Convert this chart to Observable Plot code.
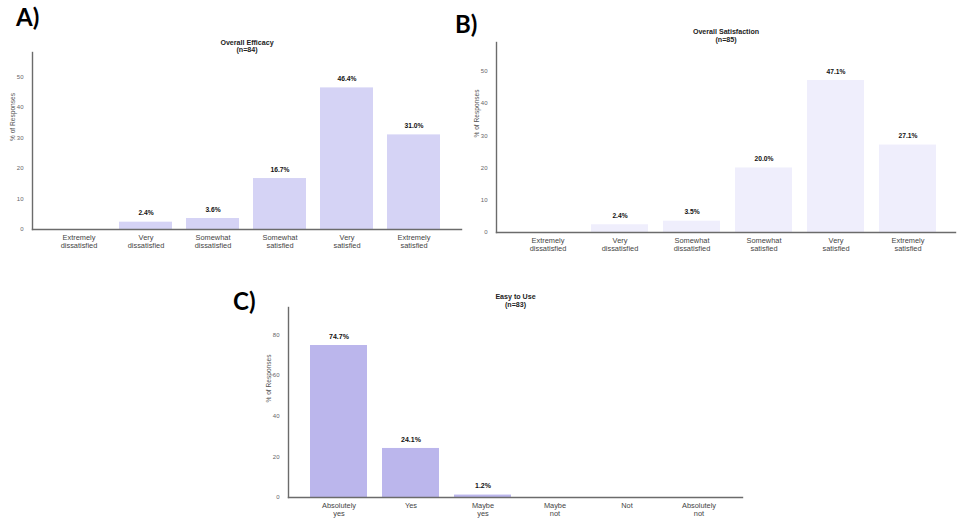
<!DOCTYPE html>
<html>
<head>
<meta charset="utf-8">
<script src="https://cdn.jsdelivr.net/npm/d3@7"></script>
<script src="https://cdn.jsdelivr.net/npm/@observablehq/plot@0.6"></script>
<style>
  html, body { margin: 0; padding: 0; background: #fff; }
  #root { position: relative; width: 963px; height: 524px; overflow: hidden; background: #fff; }
  .panel { position: absolute; }
  .panel svg { overflow: visible; background: transparent; }
  .letter { position: absolute; font-family: Lato, "Open Sans", sans-serif; font-weight: 700; font-size: 24px; line-height: 1; color: #000; }
</style>
</head>
<body>
<div id="root">
  <div class="letter" style="left:16px; top:5px;">A)</div>
  <div class="letter" style="left:455px; top:12px;">B)</div>
  <div class="letter" style="left:233px; top:289px;">C)</div>
  <div class="panel" id="pA" style="left:0px; top:0px;"></div>
  <div class="panel" id="pB" style="left:460px; top:0px;"></div>
  <div class="panel" id="pC" style="left:240px; top:270px;"></div>
</div>
<script>
// ---- Data ----
const satisfactionCategories = ["Extremely\ndissatisfied", "Very\ndissatisfied", "Somewhat\ndissatisfied", "Somewhat\nsatisfied", "Very\nsatisfied", "Extremely\nsatisfied"];
const efficacyValues = [0, 2.4, 3.6, 16.7, 46.4, 31.0];
const satisfactionValues = [0, 2.4, 3.5, 20.0, 47.1, 27.1];
const easeCategories = ["Absolutely\nyes", "Yes", "Maybe\nyes", "Maybe\nnot", "Not", "Absolutely\nnot"];
const easeValues = [74.7, 24.1, 1.2, 0, 0, 0];
const ticksAB = [0, 10, 20, 30, 40, 50];
const ticksC = [0, 20, 40, 60, 80];
const titles = ["Overall Efficacy\n(n=84)", "Overall Satisfaction\n(n=85)", "Easy to Use\n(n=83)"];
const yLabel = "% of Responses";

function panel(o) {
  const data = o.cats.map((c, i) => ({cat: c, v: o.vals[i]}));
  const yMax = d3.max(o.vals) * 1.25;
  const axisColor = "#6b6b6b";
  return Plot.plot({
    width: o.width, height: o.height,
    marginLeft: o.ml, marginRight: o.mr, marginTop: o.mt, marginBottom: o.mb,
    style: {fontFamily: "'Liberation Sans', Arial, sans-serif", background: "transparent", overflow: "visible"},
    x: {domain: o.cats, range: o.xRange, paddingInner: 0.21, paddingOuter: 0.105, label: null},
    y: {domain: [0, yMax], label: null},
    marks: [
      Plot.barY(data, {x: "cat", y: "v", fill: o.color}),
      Plot.text(data.filter(d => d.v > 0), {x: "cat", y: "v", text: d => d.v.toFixed(1) + "%", dy: -9, fontWeight: "bold", fontSize: o.valSize, fill: "#111"}),
      Plot.axisX({tickSize: 0, tickPadding: 5, fontSize: 7.4, fill: "#444", label: null, lineHeight: 1.1}),
      Plot.axisY({ticks: o.ticks, tickSize: 0, tickPadding: 9, fontSize: 6, fill: "#666", label: null}),
      Plot.text([yLabel], {frameAnchor: "left", rotate: -90, dx: -20, fontSize: 6.6, fill: "#555"}),
      Plot.frame({anchor: "left", stroke: axisColor, strokeWidth: 1.4}),
      Plot.frame({anchor: "bottom", stroke: axisColor, strokeWidth: 1.4}),
      Plot.text([o.title], {frameAnchor: "top", dy: o.titleDy, fontWeight: "bold", fontSize: 7.1, lineHeight: 1.05, fill: "#222"})
    ]
  });
}

document.getElementById("pA").append(panel({
  cats: satisfactionCategories, vals: efficacyValues, title: titles[0], color: "#d5d3f5",
  width: 480, height: 260, ml: 32, mr: 19, mt: 52, mb: 31, xRange: [43.9, 448.3],
  ticks: ticksAB, titleDy: -13, valSize: 6.7
}));
document.getElementById("pB").append(panel({
  cats: satisfactionCategories, vals: satisfactionValues, title: titles[1], color: "#efeefc",
  width: 503, height: 262, ml: 36, mr: 8, mt: 42, mb: 30, xRange: [49.75, 484.75],
  ticks: ticksAB, titleDy: -13.7, valSize: 6.7
}));
document.getElementById("pC").append(panel({
  cats: easeCategories, vals: easeValues, title: titles[2], color: "#bbb6ec",
  width: 510, height: 254, ml: 48, mr: 8, mt: 37, mb: 27, xRange: [60.75, 495.75],
  ticks: ticksC, titleDy: -13.7, valSize: 7
}));
</script>
</body>
</html>
